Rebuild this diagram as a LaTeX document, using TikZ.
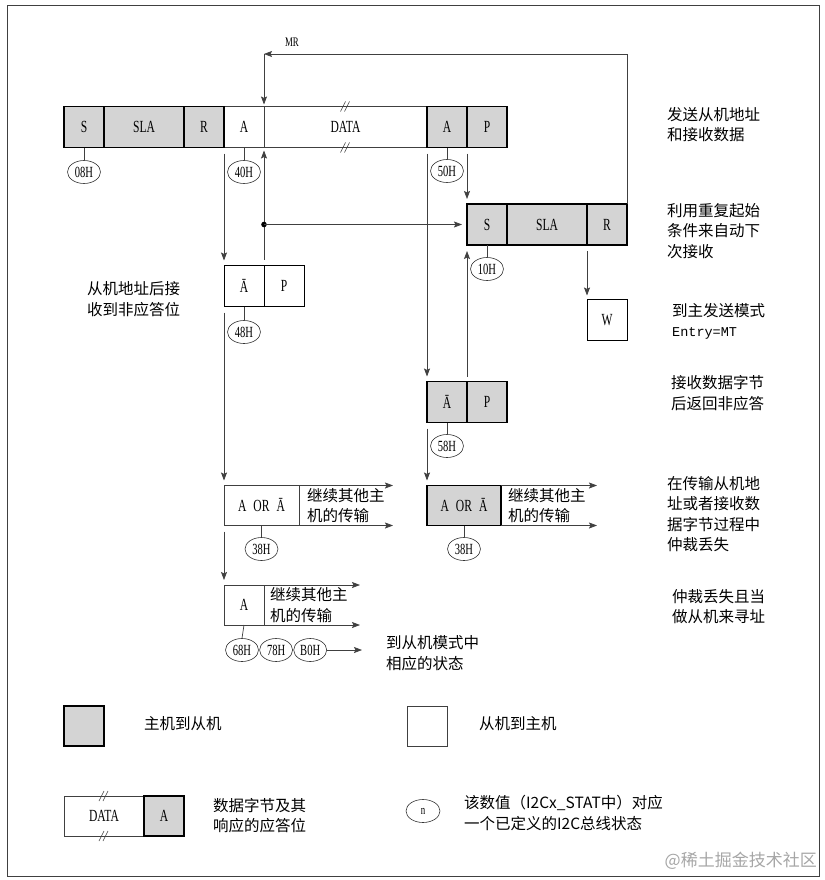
\documentclass[tikz,border=0pt]{standalone}
\usepackage{fontspec}
\setmainfont[FakeStretch=0.68]{Liberation Serif}
\newfontfamily\cjk{Noto Sans CJK SC}
\newfontfamily\mono{Liberation Mono}
\usepackage{tikz}
\usetikzlibrary{arrows.meta,positioning,shapes.geometric}

\begin{document}
\begin{tikzpicture}[x=1pt,y=-1pt,
      mfield/.style={draw=black,line width=1.2pt,fill=black!17,minimum width=40pt,
                     minimum height=41pt,inner sep=0pt,outer sep=0pt,
                     font=\fontsize{17}{20}\selectfont},
      sfield/.style={mfield,draw=black!75,line width=0.8pt,fill=white},
      st/.style={draw=black!80,ellipse,line width=0.6pt,minimum width=33pt,minimum height=23pt,
                 inner sep=0pt,font=\fontsize{15.5}{18}\selectfont},
      lnk/.style={draw=black!75,line width=0.7pt},
      arr/.style={lnk,-{Stealth[length=8pt,width=6pt,inset=1.5pt]}},
      note/.style={anchor=west,align=left,inner sep=0pt,font=\cjk\fontsize{15.5}{20.5}\selectfont}]
    \useasboundingbox (0,0) rectangle (824,880);
    % frame
    \draw[black!75,line width=1pt] (7,6) rectangle (819,876);
    % master receiver: address + data
    \node[sfield] (a1) at (244,127) {A};
    \node[sfield,minimum width=163pt,right=0pt of a1] (data1) {DATA};
    \node[mfield,left=0pt of a1] (r1) {R};
    \node[mfield,minimum width=80pt,left=0pt of r1] (sla1) {SLA};
    \node[mfield,left=0pt of sla1] (s1) {S};
    \node[mfield,right=0pt of data1] (a2) {A};
    \node[mfield,right=0pt of a2] (p1) {P};
    % repeated start
    \node[mfield] (s2) at (487,224.5) {S};
    \node[mfield,minimum width=80pt,right=0pt of s2] (sla2) {SLA};
    \node[mfield,right=0pt of sla2] (r2) {R};
    \node[sfield,draw=black] (w) at (607,320) {W};
    % not acknowledged
    \node[sfield,draw=black] (na1) at (244,286) {Ā};
    \node[sfield,draw=black,right=0pt of na1] (p2) {P};
    \node[mfield] (na2) at (447,402) {Ā};
    \node[mfield,right=0pt of na2] (p3) {P};
    % arbitration lost
    \node[sfield,minimum width=75pt,minimum height=40pt] (ao1) at (261.5,505.5) {A\hspace{7pt}OR\hspace{7pt}Ā};
    \node[mfield,minimum width=74pt,minimum height=40pt] (ao2) at (464,505.5) {A\hspace{7pt}OR\hspace{7pt}Ā};
    \node[sfield,minimum height=40pt] (ab) at (244,605) {A};
    \node[note,right=8pt of ao1] (go1) {继续其他主\\机的传输};
    \node[note,right=7pt of ao2] (go2) {继续其他主\\机的传输};
    \node[note,right=6pt of ab] (go3) {继续其他主\\机的传输};
    % status codes
    \node[st] (e08) at (84,172) {08H};
    \node[st] (e40) at (244,172) {40H};
    \node[st] (e50) at (447,171) {50H};
    \node[st] (e10) at (487,269) {10H};
    \node[st] (e48) at (244,332) {48H};
    \node[st] (e58) at (447,446) {58H};
    \node[st] (e38a) at (261.5,549) {38H};
    \node[st] (e38b) at (464,549) {38H};
    \node[st] (e68) at (242,650) {68H};
    \node[st,right=0.5pt of e68] (e78) {78H};
    \node[st,right=0.5pt of e78] (eb0) {B0H};
    \foreach \b/\e in {s1/e08,a1/e40,a2/e50,s2/e10,na1/e48,na2/e58,ao1/e38a,ao2/e38b,ab/e68}
      \draw[lnk] (\b.south) -- (\e.north);
    % break marks on DATA
    \foreach \n in {data1.north,data1.south}
      \draw[black!75,line width=0.6pt] ([xshift=-5pt,yshift=-5pt]\n) -- ++(5pt,10pt)
                                        ([xshift=-1pt,yshift=-5pt]\n) -- ++(5pt,10pt);
    % MR loop
    \coordinate (mr) at (264,54);
    \node[font=\fontsize{13}{15}\selectfont] (mrlab) at (292,42) {MR};
    \draw[arr] (r2.north east) |- (mr);
    \draw[arr] (mr) -- ([yshift=2pt]a1.north east);
    % flow
    \draw[arr] ([yshift=-6pt]a1.south west) -- ([yshift=5pt]na1.north west);
    \draw[arr] ([yshift=6pt]na1.north east) -- ([yshift=-3pt]a1.south east);
    \coordinate (jn) at (a1.south east |- s2.west);
    \fill[black] (jn) circle (2.8pt);
    \draw[arr] (jn) -- ([xshift=-5pt]s2.west);
    \draw[arr] ([yshift=-6pt]p1.south west) -- ([yshift=5pt]s2.north west);
    \draw[arr] ([yshift=-6pt]a2.south west) -- ([yshift=5pt]na2.north west);
    \draw[arr] ([yshift=5pt]na2.north east) -- ([yshift=-6pt]s2.south west);
    \draw[arr] ([yshift=-6pt]r2.south west) -- ([yshift=4pt]w.north west);
    \draw[arr] ([yshift=-6pt]na1.south west) -- ([yshift=5pt]ao1.north west);
    \draw[arr] ([yshift=-6pt]na2.south west) -- ([yshift=5pt]ao2.north west);
    \draw[arr] ([yshift=-6pt]ao1.south west) -- ([yshift=5pt]ab.north west);
    \draw[arr] (ao1.north east) -- ++(94pt,0);
    \draw[arr] (ao1.south east) -- ++(94pt,0);
    \draw[arr] (ao2.north east) -- ++(96pt,0);
    \draw[arr] (ao2.south east) -- ++(96pt,0);
    \draw[arr] (ab.north east) -- ++(96pt,0);
    \draw[arr] (ab.south east) -- ++(96pt,0);
    \draw[arr] (eb0.east) -- ++(35pt,0);
    \node[note] (toslv) at (386,653) {到从机模式中\\相应的状态};
    % side notes
    \node[note] (n1) at (87,299) {从机地址后接\\收到非应答位};
    \node[note] (n2) at (667,124.5) {发送从机地址\\和接收数据};
    \node[note] (n3) at (667,231) {利用重复起始\\条件来自动下\\次接收};
    \node[note] (n4) at (672,321.5) {到主发送模式\\{\mono\fontsize{13.5}{15}\selectfont Entry=MT}};
    \node[note] (n5) at (671,393) {接收数据字节\\后返回非应答};
    \node[note] (n6) at (667,514) {在传输从机地\\址或者接收数\\据字节过程中\\仲裁丢失};
    \node[note] (n7) at (672,606.5) {仲裁丢失且当\\做从机来寻址};
    % legend
    \node[mfield,minimum height=40pt] (lm) at (84,726) {};
    \node[note] (lmt) at (144,724) {主机到从机};
    \node[sfield,minimum height=40pt] (ls) at (427,726) {};
    \node[note] (lst) at (479,724) {从机到主机};
    \node[sfield,minimum width=80pt,minimum height=40pt] (ldata) at (104,816) {DATA};
    \node[mfield,minimum height=40pt,right=0pt of ldata] (la) {A};
    \foreach \n in {ldata.north,ldata.south}
      \draw[black!75,line width=0.6pt] ([xshift=-5pt,yshift=-5pt]\n) -- ++(5pt,10pt)
                                        ([xshift=-1pt,yshift=-5pt]\n) -- ++(5pt,10pt);
    \node[note] (ldt) at (213,815.5) {数据字节及其\\响应的应答位};
    \node[st,minimum width=34pt,font=\fontsize{13}{15}\selectfont] (ln) at (423,811) {n};
    \node[note] (lnt) at (464,813) {该数值（I2Cx\_STAT中）对应\\一个已定义的I2C总线状态};
    \node[anchor=east,inner sep=0pt,text=black!35,font=\cjk\fontsize{17}{20}\selectfont] (wm)
          at (817,861) {@稀土掘金技术社区};
  \end{tikzpicture}
\end{document}
